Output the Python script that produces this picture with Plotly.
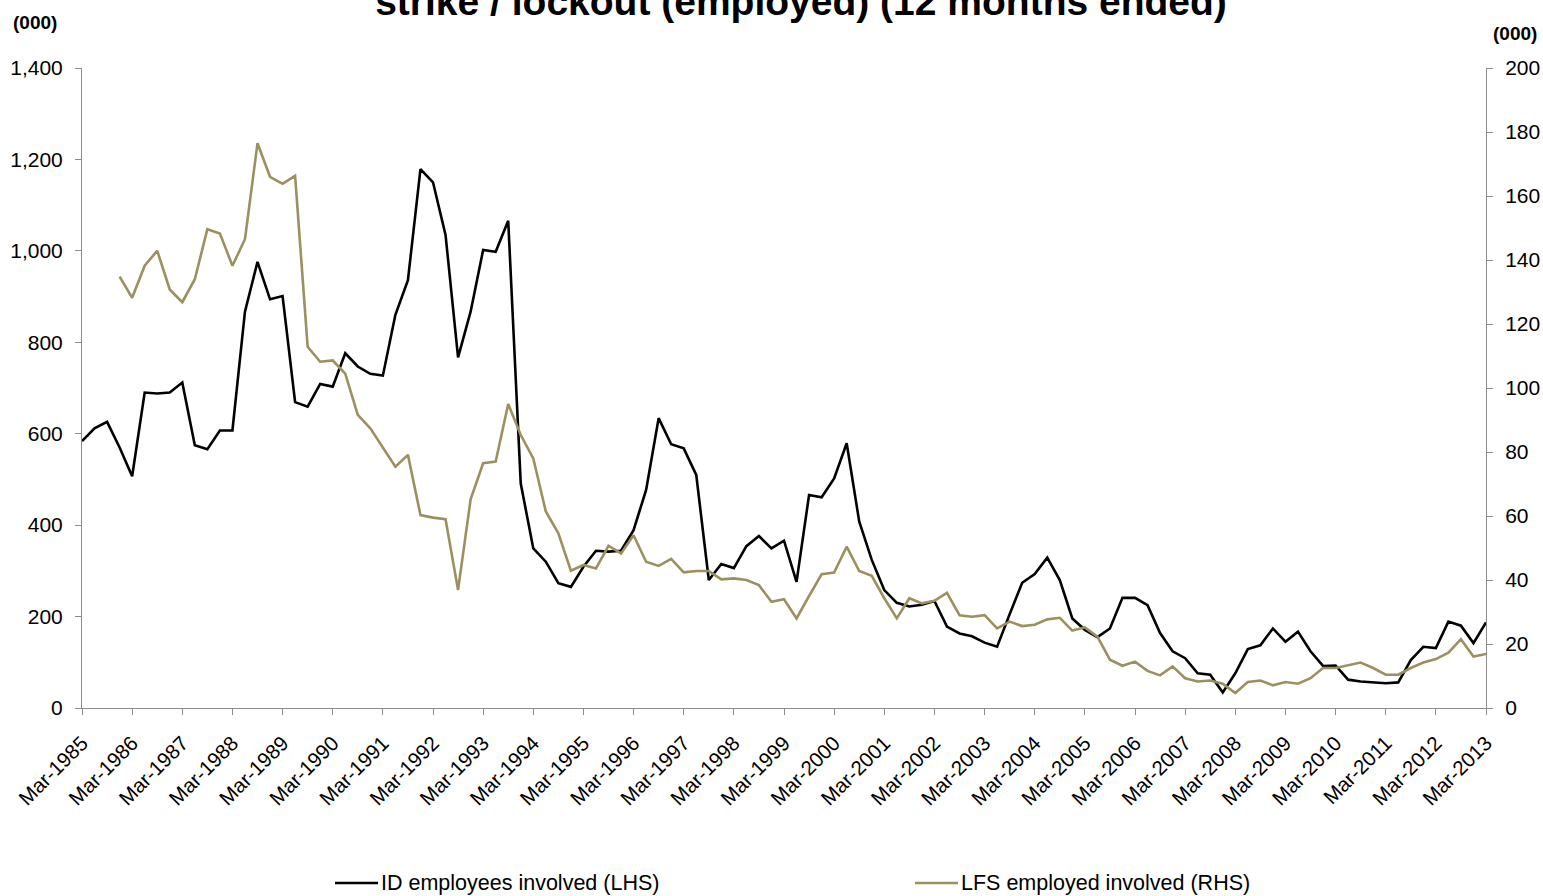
import plotly.graph_objects as go

# ---- data -------------------------------------------------------------
months = ["Mar", "Jun", "Sep", "Dec"]
quarters = []
for yr in range(1985, 2014):
    for m in months:
        quarters.append(f"{m}-{yr}")
quarters = quarters[:113]  # Mar-1985 .. Mar-2013

id_employees_lhs = [
    584, 612, 626, 570, 507, 690, 688, 690, 712, 575,
    566, 607, 607, 867, 976, 894, 901, 669, 659, 709,
    703, 776, 747, 731, 727, 860, 936, 1179, 1150, 1035,
    767, 867, 1002, 998, 1066, 491, 349, 320, 273, 265,
    309, 344, 342, 344, 389, 477, 634, 577, 568, 510,
    280, 315, 306, 354, 376, 349, 366, 276, 466, 461,
    502, 579, 408, 324, 258, 230, 222, 226, 234, 178,
    163, 157, 143, 134, 205, 274, 293, 329, 280, 196,
    171, 155, 174, 241, 241, 225, 164, 124, 109, 76,
    73, 34, 76, 129, 137, 174, 145, 167, 124, 92,
    93, 62, 58, 56, 54, 56, 105, 134, 131, 189,
    180, 142, 187,
]

lfs_employed_rhs = [
    None, None, None, 134.8, 128.2, 138.2, 142.9, 130.8, 126.8, 134.0,
    149.6, 148.3, 138.2, 146.5, 176.5, 166.0, 163.8, 166.3, 112.9, 108.2,
    108.6, 104.5, 91.6, 87.4, 81.5, 75.4, 79.1, 60.3, 59.5, 59.0,
    36.9, 65.2, 76.5, 77.0, 95.0, 85.3, 78.0, 61.4, 54.6, 42.9,
    44.7, 43.6, 50.7, 48.3, 54.0, 45.7, 44.4, 46.6, 42.4, 42.8,
    42.8, 40.2, 40.5, 40.0, 38.4, 33.2, 34.0, 28.0, 35.0, 41.8,
    42.3, 50.4, 42.8, 41.3, 34.3, 28.0, 34.3, 32.7, 33.5, 36.0,
    29.0, 28.5, 29.0, 24.9, 27.0, 25.6, 26.0, 27.7, 28.2, 24.2,
    25.2, 22.3, 15.1, 13.2, 14.5, 11.6, 10.2, 13.0, 9.3, 8.3,
    8.6, 7.6, 4.7, 8.1, 8.6, 7.1, 8.1, 7.6, 9.3, 12.5,
    12.5, 13.3, 14.2, 12.5, 10.4, 10.4, 12.5, 14.2, 15.3, 17.3,
    21.5, 16.1, 16.9,
]

series_names = ["ID employees involved (LHS)", "LFS employed involved (RHS)"]
x_tick_labels = quarters[::4]
left_ticks = [0, 200, 400, 600, 800, 1000, 1200, 1400]
right_ticks = [0, 20, 40, 60, 80, 100, 120, 140, 160, 180, 200]

# ---- figure -----------------------------------------------------------
FONT = "Liberation Sans, Arial, sans-serif"
AXIS_COL = "#8c8c8c"
GOLD = "#9a915f"
COLORS = ["#000000", GOLD]

W, H = 1543, 896
ML, MR, MT, MB = 82, 57, 68, 188
PW, PH = W - ML - MR, H - MT - MB


def px_x(px):
    return (px - ML) / PW


def px_y(py):
    return (H - MB - py) / PH


fig = go.Figure()
fig.add_trace(go.Scatter(
    x=quarters, y=id_employees_lhs, mode="lines",
    name=series_names[0],
    line=dict(color=COLORS[0], width=2.6),
    yaxis="y",
))
fig.add_trace(go.Scatter(
    x=quarters, y=lfs_employed_rhs, mode="lines",
    name=series_names[1],
    line=dict(color=COLORS[1], width=2.6),
    yaxis="y2", connectgaps=False,
))

fig.update_layout(
    width=W, height=H,
    margin=dict(l=ML, r=MR, t=MT, b=MB, autoexpand=False),
    paper_bgcolor="white", plot_bgcolor="white",
    font=dict(family=FONT, size=20, color="#000000"),
    showlegend=False,
    title=dict(
        text="<b>strike / lockout (employed) (12 months ended)</b>",
        x=801 / W, xanchor="center", xref="container",
        y=0.999, yanchor="middle", yref="container",
        font=dict(family=FONT, size=39, color="#000000"),
    ),
    xaxis=dict(
        type="category",
        range=[0, len(quarters) - 1],
        tickmode="array", tickvals=x_tick_labels, ticktext=x_tick_labels,
        tickangle=-45,
        showline=True, linecolor=AXIS_COL, linewidth=1,
        ticks="outside", ticklen=6, tickcolor=AXIS_COL,
        ticklabelstandoff=8,
        showgrid=False, zeroline=False,
        tickfont=dict(size=20.5, color="#000000"),
        automargin=False,
    ),
    yaxis=dict(
        range=[0, 1400],
        tickmode="array", tickvals=left_ticks,
        tickformat=",d",
        showline=True, linecolor=AXIS_COL, linewidth=1,
        ticks="outside", ticklen=6, tickcolor=AXIS_COL,
        ticklabelstandoff=8,
        showgrid=False, zeroline=False,
        tickfont=dict(size=21, color="#000000"),
        automargin=False,
    ),
    yaxis2=dict(
        range=[0, 200], overlaying="y", side="right",
        tickmode="array", tickvals=right_ticks,
        showline=True, linecolor=AXIS_COL, linewidth=1,
        ticks="outside", ticklen=6, tickcolor=AXIS_COL,
        ticklabelstandoff=8,
        showgrid=False, zeroline=False,
        tickfont=dict(size=21, color="#000000"),
        automargin=False,
    ),
)

# axis unit labels
fig.add_annotation(
    text="<b>(000)</b>", xref="paper", yref="paper",
    x=px_x(35), y=px_y(22),
    xanchor="center", yanchor="middle", showarrow=False,
    font=dict(family=FONT, size=19, color="#000000"),
)
fig.add_annotation(
    text="<b>(000)</b>", xref="paper", yref="paper",
    x=px_x(1515), y=px_y(33),
    xanchor="center", yanchor="middle", showarrow=False,
    font=dict(family=FONT, size=19, color="#000000"),
)

# legend drawn at the bottom (line sample + text)
legend_starts = [335, 915]
legend_y = 883
for name, col, x0 in zip(series_names, COLORS, legend_starts):
    fig.add_shape(
        type="line", xref="paper", yref="paper",
        x0=px_x(x0), x1=px_x(x0 + 43), y0=px_y(legend_y), y1=px_y(legend_y),
        line=dict(color=col, width=2.6),
    )
    fig.add_annotation(
        text=name, xref="paper", yref="paper",
        x=px_x(x0 + 44), y=px_y(legend_y),
        xanchor="left", yanchor="middle", showarrow=False,
        font=dict(family=FONT, size=21.5, color="#000000"),
    )

fig.write_html("out.html")
